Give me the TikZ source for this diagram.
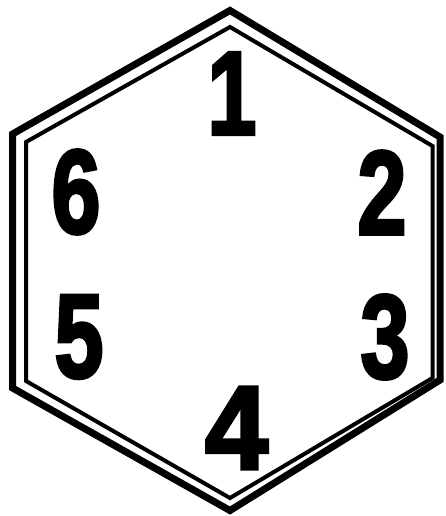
\documentclass[tikz,border=0pt]{standalone}
\usepackage{fontspec}
\setmainfont{Liberation Sans}[BoldFeatures={FakeBold=3}]
\tikzset{
  outerhex/.style={draw=black,line width=7pt,line join=miter},
  innerhex/.style={draw=black,line width=4pt,line join=miter},
  digit/.style={inner sep=0pt,anchor=center,font=\fontsize{119}{119}\selectfont\bfseries},
}
\newcommand{\dg}[1]{\scalebox{0.74}[1]{#1}}
\begin{document}
\begin{tikzpicture}[x=1pt,y=-1pt]
\useasboundingbox[fill=white] (0,0) rectangle (445,516);
% outer hexagon
\coordinate (ot) at (230,10.5);
\coordinate (our) at (440,137);
\coordinate (olr) at (440,380);
\coordinate (ob) at (230,510.5);
\coordinate (oll) at (12.5,388);
\coordinate (oul) at (12.5,134);
\draw[outerhex] (ot) -- (our) -- (olr) -- (ob) -- (oll) -- (oul) -- cycle;
% inner hexagon
\coordinate (it) at (230,27);
\coordinate (iur) at (432.5,146);
\coordinate (ilr) at (432.5,378);
\coordinate (ib) at (230,498);
\coordinate (ill) at (26,381);
\coordinate (iul) at (26,142);
\draw[innerhex] (it) -- (iur) -- (ilr) -- (ib) -- (ill) -- (iul) -- cycle;
% digits
\node[digit] (n1) at (232,93.5) {\dg{1}};
\node[digit] (n2) at (382,192.5) {\dg{2}};
\node[digit] (n3) at (385,337) {\dg{3}};
\node[digit] (n4) at (236.5,428) {\scalebox{0.95}[1]{4}};
\node[digit] (n5) at (79,337) {\dg{5}};
\node[digit] (n6) at (76,192) {\dg{6}};
\end{tikzpicture}
\end{document}
